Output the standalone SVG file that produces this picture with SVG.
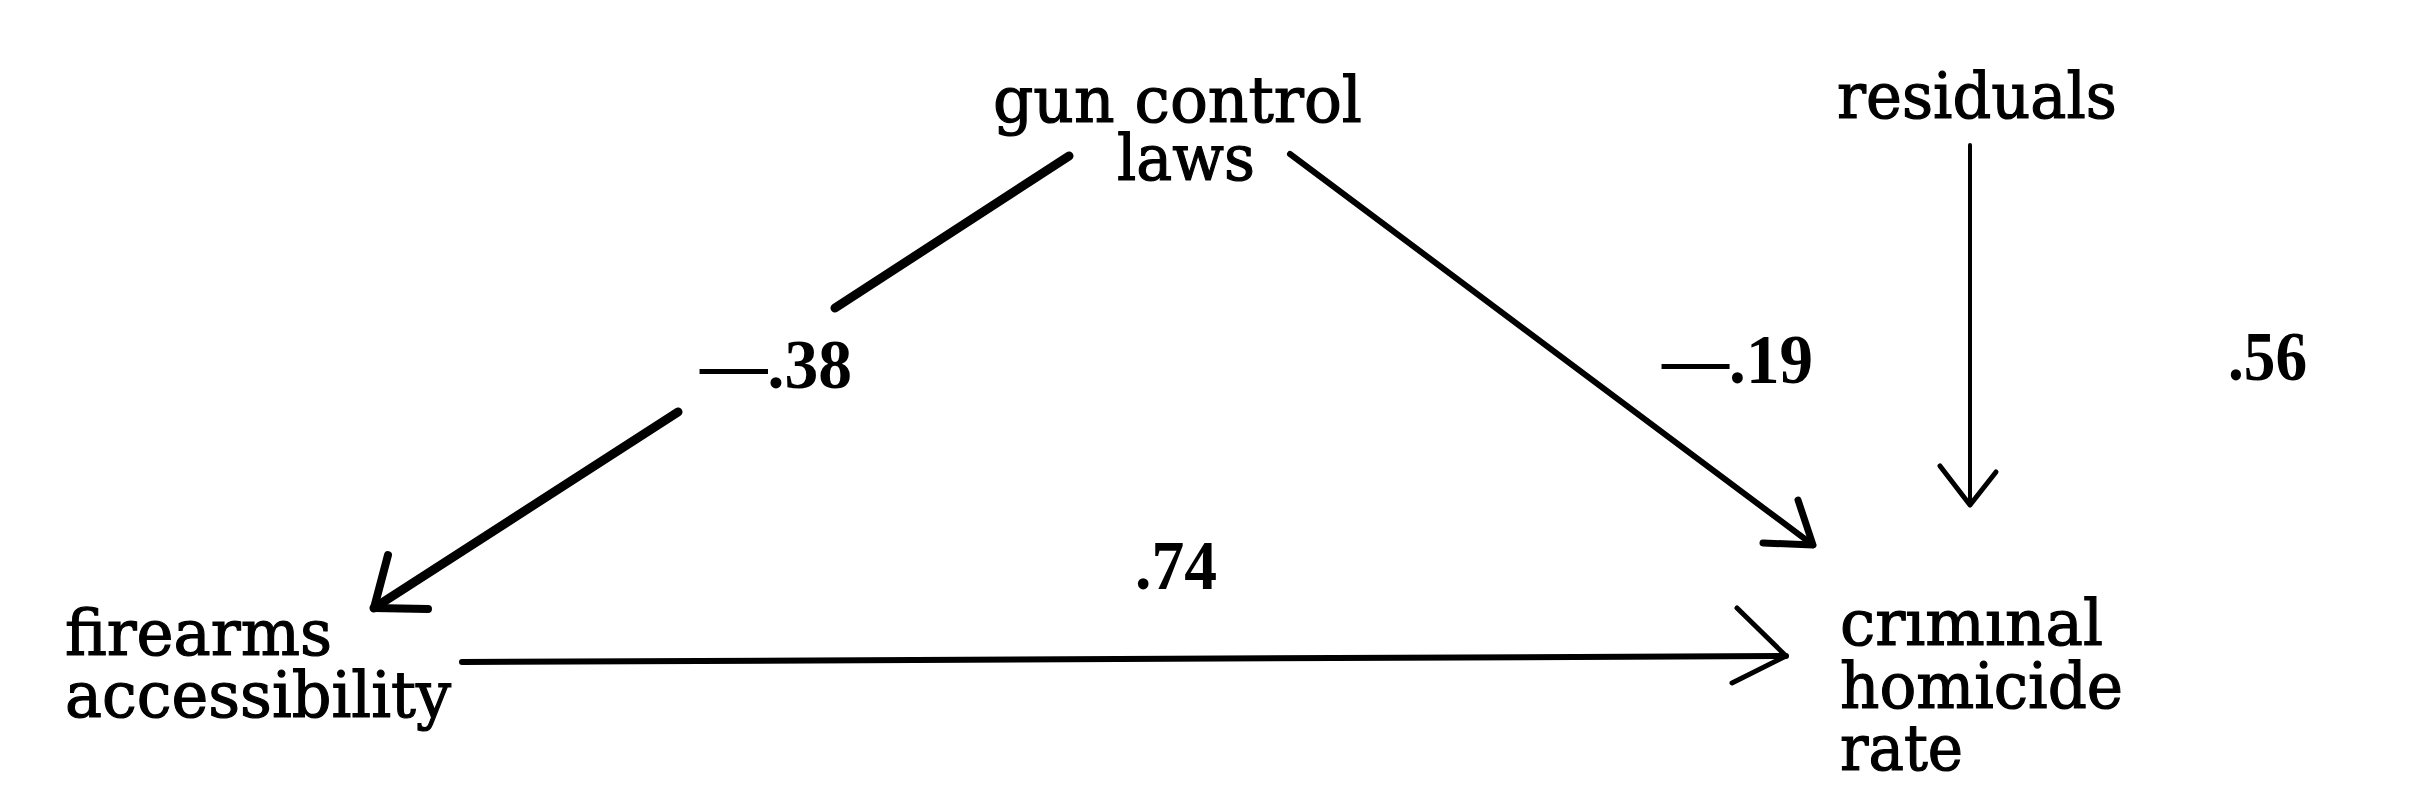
<svg xmlns="http://www.w3.org/2000/svg" width="2424" height="798" viewBox="0 0 2424 798">
<style>
.t{font-family:"DejaVu Serif","Liberation Serif",serif;font-size:64px;fill:#000;stroke:#000;stroke-width:1.2px}
.n{font-family:"Liberation Serif","DejaVu Serif",serif;font-size:70px;font-weight:bold;fill:#000}
.c{fill:none;stroke:#000;stroke-linecap:round;stroke-linejoin:round}
</style>
<rect width="2424" height="798" fill="#fff"/>
<g id="connectors">
<g id="e-gun-firearms">
<line class="c" x1="1069" y1="156" x2="835" y2="308" stroke-width="9"/>
<line class="c" x1="678" y1="412" x2="374" y2="608" stroke-width="9"/>
<polyline class="c" points="388,555 374,608 428,609" stroke-width="8"/>
</g>
<g id="e-gun-homicide">
<line class="c" x1="1290" y1="154" x2="1813" y2="545" stroke-width="6"/>
<polyline class="c" points="1798,500 1813,545 1763,543" stroke-width="7"/>
</g>
<g id="e-firearms-homicide">
<line class="c" x1="462" y1="662" x2="1786" y2="656" stroke-width="6"/>
<polyline class="c" points="1737,608 1786,656 1732,683" stroke-width="5"/>
</g>
<g id="e-residuals-homicide">
<line class="c" x1="1970" y1="145" x2="1970" y2="505" stroke-width="4"/>
<polyline class="c" points="1940,466 1970,505 1996,472" stroke-width="5"/>
</g>
<text class="n" x="700" y="388" textLength="152" lengthAdjust="spacingAndGlyphs">—.38</text>
<text class="n" x="1662" y="383" textLength="151" lengthAdjust="spacingAndGlyphs">—.19</text>
<text class="n" x="1135" y="589" textLength="82" lengthAdjust="spacingAndGlyphs">.74</text>
<text class="n" x="2228" y="380" textLength="79" lengthAdjust="spacingAndGlyphs">.56</text>
</g>
<g id="node-gun-control">
<text class="t" x="993" y="122" textLength="369" lengthAdjust="spacingAndGlyphs">gun control</text>
<text class="t" x="1117" y="180" textLength="138" lengthAdjust="spacingAndGlyphs">laws</text>
</g>
<g id="node-residuals">
<text class="t" x="1837" y="118" textLength="280" lengthAdjust="spacingAndGlyphs">residuals</text>
</g>
<g id="node-firearms">
<text class="t" x="65" y="655" textLength="267" lengthAdjust="spacingAndGlyphs">firearms</text>
<text class="t" x="65" y="717" textLength="386" lengthAdjust="spacingAndGlyphs">accessibility</text>
</g>
<g id="node-homicide">
<text class="t" x="1840" y="645" textLength="263" lengthAdjust="spacingAndGlyphs">crımınal</text>
<text class="t" x="1840" y="708" textLength="283" lengthAdjust="spacingAndGlyphs">homicide</text>
<text class="t" x="1840" y="770" textLength="123" lengthAdjust="spacingAndGlyphs">rate</text>
</g>
</svg>
